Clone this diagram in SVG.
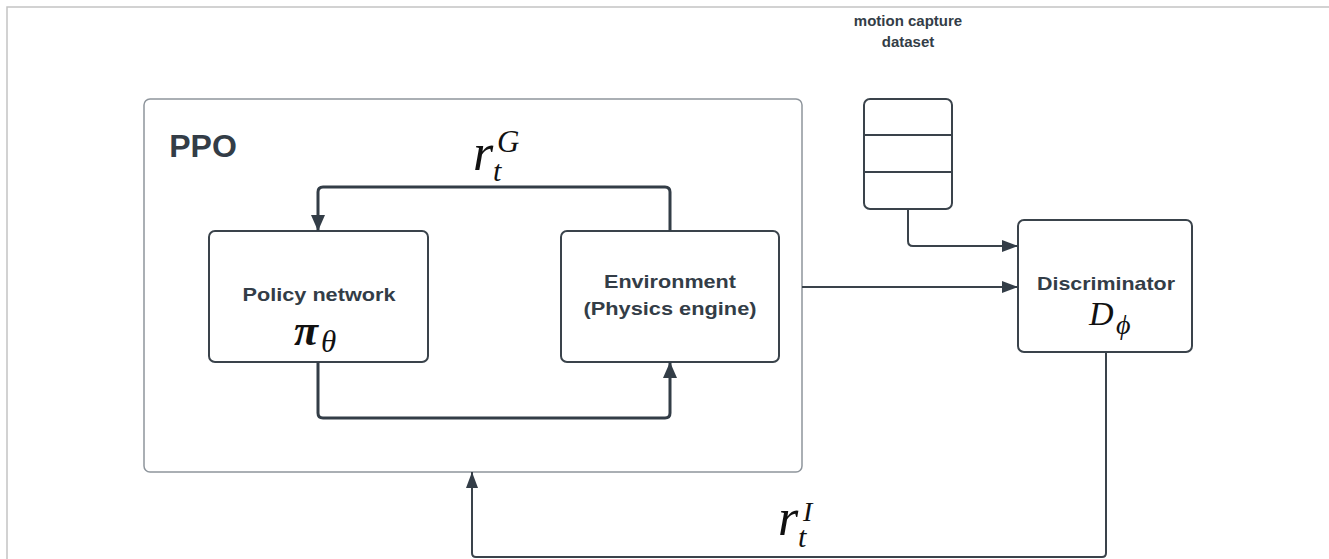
<svg xmlns="http://www.w3.org/2000/svg" width="1329" height="559" viewBox="0 0 1329 559">
  <style>
    .frame { fill: none; stroke: #c4c4c4; stroke-width: 1.5; }
    .container { fill: #ffffff; stroke: #8e959c; stroke-width: 1.5; }
    .box { fill: #ffffff; stroke: #3a434b; stroke-width: 2; }
    .label { font-family: "Liberation Sans", Arial, sans-serif; font-weight: bold; fill: #333d47; text-anchor: middle; }
    .math { font-family: "Liberation Serif", "Times New Roman", serif; font-style: italic; fill: #111111; }
    .thick { fill: none; stroke: #333d47; stroke-width: 3; }
    .thin { fill: none; stroke: #3a434b; stroke-width: 2; }
  </style>
  <defs>
    <marker id="arrowBig" markerUnits="userSpaceOnUse" markerWidth="17" markerHeight="14" refX="16" refY="7" orient="auto">
      <path d="M0,0 L16,7 L0,14 Z" fill="#333d47"/>
    </marker>
    <marker id="arrowSmall" markerUnits="userSpaceOnUse" markerWidth="17" markerHeight="12" refX="16" refY="6" orient="auto">
      <path d="M0,0 L16,6 L0,12 Z" fill="#333d47"/>
    </marker>
  </defs>

  <!-- page frame -->
  <path class="frame" d="M7,559 V7 H1329"/>

  <!-- PPO container -->
  <g id="ppo">
    <rect class="container" x="144" y="99" width="658" height="373" rx="6"/>
    <text class="label" x="203" y="157" font-size="32">PPO</text>
  </g>

  <!-- policy network -->
  <g id="policy">
    <rect class="box" x="209" y="231" width="219" height="131" rx="6"/>
    <text class="label" x="319" y="301" font-size="19" textLength="153" lengthAdjust="spacingAndGlyphs">Policy network</text>
    <text class="math" x="294" y="345" font-size="44" font-weight="bold">π</text>
    <text class="math" x="321" y="352" font-size="31">θ</text>
  </g>

  <!-- environment -->
  <g id="environment">
    <rect class="box" x="561" y="231" width="218" height="131" rx="6"/>
    <text class="label" x="670" y="288" font-size="19" textLength="132" lengthAdjust="spacingAndGlyphs">Environment</text>
    <text class="label" x="670" y="315" font-size="19" textLength="173" lengthAdjust="spacingAndGlyphs">(Physics engine)</text>
  </g>

  <!-- motion capture dataset -->
  <g id="dataset">
    <text class="label" x="908" y="26" font-size="15">motion capture</text>
    <text class="label" x="908" y="47" font-size="15">dataset</text>
    <rect class="box" x="864" y="99" width="88" height="110" rx="6"/>
    <line class="box" x1="864" y1="135" x2="952" y2="135"/>
    <line class="box" x1="864" y1="172" x2="952" y2="172"/>
  </g>

  <!-- discriminator -->
  <g id="discriminator">
    <rect class="box" x="1018" y="220" width="174" height="132" rx="6"/>
    <text class="label" x="1106" y="290" font-size="19" textLength="138" lengthAdjust="spacingAndGlyphs">Discriminator</text>
    <text class="math" x="1089" y="325" font-size="34">D</text>
    <text class="math" x="1116" y="334" font-size="28">ϕ</text>
  </g>

  <!-- connectors -->
  <g id="connectors">
    <path class="thick" d="M670,231 V192 Q670,187 665,187 H323 Q318,187 318,192 V231" marker-end="url(#arrowBig)"/>
    <path class="thick" d="M318,362 V413 Q318,418 323,418 H665 Q670,418 670,413 V362" marker-end="url(#arrowBig)"/>
    <path class="thin" d="M802,287 H1018" marker-end="url(#arrowSmall)"/>
    <path class="thin" d="M908,209 V241 Q908,246 913,246 H1018" marker-end="url(#arrowSmall)"/>
    <path class="thin" d="M1106,352 V553 Q1106,557 1102,557 H476 Q472,557 472,553 V472" marker-end="url(#arrowSmall)"/>
  </g>

  <!-- reward labels -->
  <g id="reward-goal">
    <text class="math" x="473" y="170" font-size="52">r</text>
    <text class="math" x="497" y="152" font-size="31">G</text>
    <text class="math" x="493" y="181" font-size="30">t</text>
  </g>
  <g id="reward-imitation">
    <text class="math" x="778" y="535" font-size="52">r</text>
    <text class="math" x="803" y="521" font-size="28">I</text>
    <text class="math" x="798" y="547" font-size="30">t</text>
  </g>
</svg>
